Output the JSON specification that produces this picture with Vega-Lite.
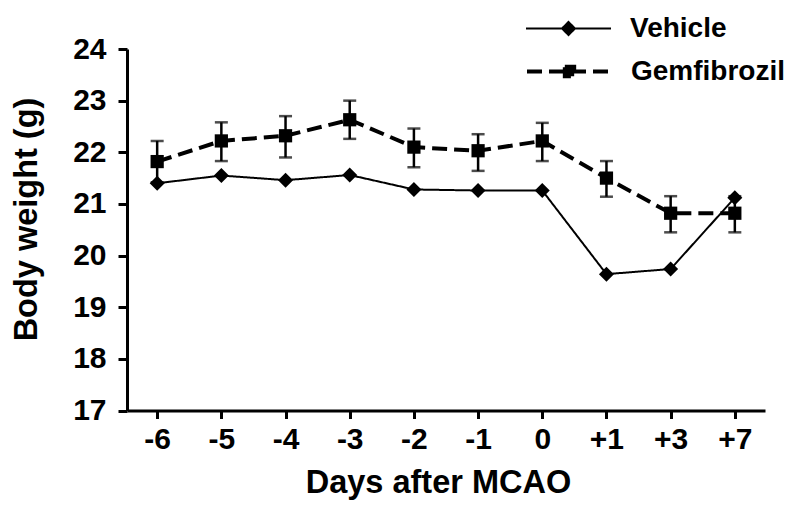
{
  "$schema": "https://vega.github.io/schema/vega-lite/v6.json",
  "autosize": {"type": "none"},
  "padding": {"left": 127, "top": 49, "right": 35, "bottom": 98},
  "width": 638,
  "height": 361.5,
  "background": "white",
  "config": {
    "view": {"stroke": null},
    "font": "Liberation Sans",
    "axis": {
      "grid": false,
      "domainColor": "black",
      "domainWidth": 3,
      "tickColor": "black",
      "tickWidth": 3,
      "labelColor": "black",
      "labelFont": "Liberation Sans",
      "labelFontWeight": "bold",
      "labelFontSize": 30,
      "titleColor": "black",
      "titleFont": "Liberation Sans",
      "titleFontWeight": "bold",
      "titleFontSize": 32.5
    },
    "axisY": {
      "tickSize": 9,
      "labelPadding": 12,
      "tickCount": 8,
      "titleAngle": -90,
      "titleX": -91,
      "titleY": 170,
      "titleAlign": "center",
      "titleBaseline": "alphabetic"
    },
    "legend": {
      "padding": 0,
      "rowPadding": 0,
      "labelFont": "Liberation Sans",
      "labelFontSize": 28,
      "labelFontWeight": "bold",
      "labelColor": "black",
      "symbolStrokeColor": "black",
      "symbolFillColor": "black"
    }
  },
  "data": {
    "values": [
      {"day": "-6", "series": "Vehicle", "weight": 21.40},
      {"day": "-5", "series": "Vehicle", "weight": 21.55},
      {"day": "-4", "series": "Vehicle", "weight": 21.46},
      {"day": "-3", "series": "Vehicle", "weight": 21.56},
      {"day": "-2", "series": "Vehicle", "weight": 21.28},
      {"day": "-1", "series": "Vehicle", "weight": 21.26},
      {"day": "0", "series": "Vehicle", "weight": 21.26},
      {"day": "+1", "series": "Vehicle", "weight": 19.64},
      {"day": "+3", "series": "Vehicle", "weight": 19.74},
      {"day": "+7", "series": "Vehicle", "weight": 21.12},
      {"day": "-6", "series": "Gemfibrozil", "weight": 21.82, "lo": 21.42, "hi": 22.22},
      {"day": "-5", "series": "Gemfibrozil", "weight": 22.22, "lo": 21.83, "hi": 22.58},
      {"day": "-4", "series": "Gemfibrozil", "weight": 22.32, "lo": 21.90, "hi": 22.70},
      {"day": "-3", "series": "Gemfibrozil", "weight": 22.63, "lo": 22.26, "hi": 23.00},
      {"day": "-2", "series": "Gemfibrozil", "weight": 22.10, "lo": 21.71, "hi": 22.46},
      {"day": "-1", "series": "Gemfibrozil", "weight": 22.03, "lo": 21.64, "hi": 22.35},
      {"day": "0", "series": "Gemfibrozil", "weight": 22.22, "lo": 21.83, "hi": 22.57},
      {"day": "+1", "series": "Gemfibrozil", "weight": 21.50, "lo": 21.14, "hi": 21.83},
      {"day": "+3", "series": "Gemfibrozil", "weight": 20.82, "lo": 20.45, "hi": 21.15},
      {"day": "+7", "series": "Gemfibrozil", "weight": 20.82, "lo": 20.45, "hi": 21.15}
    ]
  },
  "encoding": {
    "x": {
      "field": "day",
      "type": "ordinal",
      "sort": ["-6", "-5", "-4", "-3", "-2", "-1", "0", "+1", "+3", "+7"],
      "scale": {"type": "point", "padding": 0.47},
      "axis": {
        "title": "Days after MCAO",
        "labelAngle": 0,
        "tickSize": 8,
        "labelPadding": 6,
        "titleX": 311,
        "titleY": 82,
        "titleBaseline": "alphabetic",
        "titleAlign": "center"
      }
    }
  },
  "layer": [
    {
      "mark": {"type": "rule", "color": "black", "strokeWidth": 2.5},
      "encoding": {
        "y": {"field": "lo", "type": "quantitative", "title": "Body weight (g)", "scale": {"domain": [17, 24], "nice": false, "zero": false}},
        "y2": {"field": "hi"}
      }
    },
    {
      "mark": {"type": "tick", "color": "black", "size": 13, "thickness": 2.5},
      "encoding": {
        "y": {"field": "lo", "type": "quantitative", "title": "Body weight (g)"}
      }
    },
    {
      "mark": {"type": "tick", "color": "black", "size": 13, "thickness": 2.5},
      "encoding": {
        "y": {"field": "hi", "type": "quantitative", "title": "Body weight (g)"}
      }
    },
    {
      "mark": {"type": "line", "color": "black"},
      "encoding": {
        "y": {"field": "weight", "type": "quantitative", "title": "Body weight (g)"},
        "strokeDash": {
          "field": "series",
          "type": "nominal",
          "scale": {"domain": ["Vehicle", "Gemfibrozil"], "range": [[1, 0], [15, 7]]},
          "legend": {
            "title": null,
            "values": ["Vehicle"],
            "orient": "none",
            "legendX": 398,
            "legendY": -64,
            "labelOffset": 18,
            "encode": {
              "symbols": {
                "update": {
                  "size": {"value": 7225},
                  "shape": {"value": "M-1,0L1,0M0,-0.153L0.153,0L0,0.153L-0.153,0Z"},
                  "strokeWidth": {"value": 2},
                  "fill": {"value": "black"},
                  "stroke": {"value": "black"},
                  "opacity": {"value": 1},
                  "fillOpacity": {"value": 1}
                }
              }
            }
          }
        },
        "strokeWidth": {
          "field": "series",
          "type": "nominal",
          "scale": {"domain": ["Gemfibrozil", "Vehicle"], "range": [4, 2]},
          "legend": {
            "title": null,
            "values": ["Gemfibrozil"],
            "orient": "none",
            "legendX": 398,
            "legendY": -22,
            "labelOffset": 17,
            "encode": {
              "symbols": {
                "update": {
                  "size": {"value": 7225},
                  "shape": {"value": "M-1,0L1,0M-0.11,-0.11L0.11,-0.11L0.11,0.11L-0.11,0.11Z"},
                  "strokeWidth": {"value": 4},
                  "strokeDash": {"value": [15, 7]},
                  "fill": {"value": "black"},
                  "stroke": {"value": "black"},
                  "opacity": {"value": 1},
                  "fillOpacity": {"value": 1}
                }
              }
            }
          }
        }
      }
    },
    {
      "transform": [{"filter": "datum.series === 'Vehicle'"}],
      "mark": {"type": "point", "filled": true, "color": "black", "opacity": 1, "shape": "diamond", "size": 225},
      "encoding": {
        "y": {"field": "weight", "type": "quantitative", "title": "Body weight (g)"}
      }
    },
    {
      "transform": [{"filter": "datum.series === 'Gemfibrozil'"}],
      "mark": {"type": "point", "filled": true, "color": "black", "opacity": 1, "shape": "square", "size": 175},
      "encoding": {
        "y": {"field": "weight", "type": "quantitative", "title": "Body weight (g)"}
      }
    }
  ]
}
